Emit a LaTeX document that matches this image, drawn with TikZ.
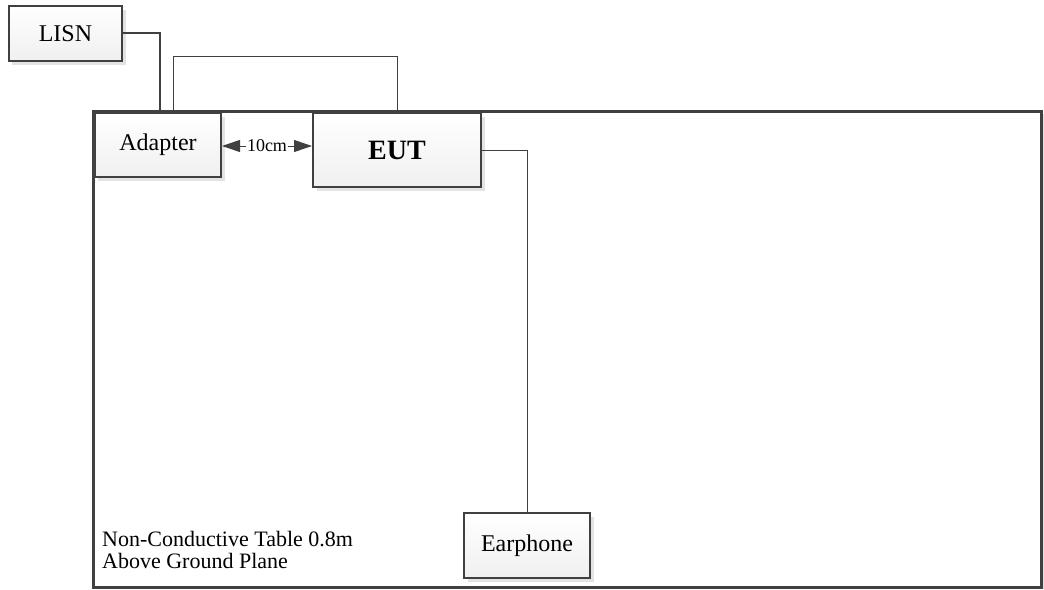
\documentclass[tikz,border=0pt]{standalone}
\usepackage{fontspec}
\setmainfont{Liberation Serif}
\usetikzlibrary{arrows.meta}
\definecolor{edge}{HTML}{404040}
\tikzset{
  px/.style={x=1pt,y=-1pt},
  devbox/.style={draw=edge, line width=2pt, top color=white, bottom color=gray!12,
    font=\fontsize{24}{28}\selectfont, inner sep=0pt},
  shadowbox/.style={fill=gray!22, draw=none},
  thickwire/.style={draw=edge, line width=2pt},
  thinwire/.style={draw=edge, line width=1pt},
  disttip/.style={draw=edge, line width=1pt, -{Triangle[length=18pt,width=12pt]}},
  tablelabel/.style={font=\fontsize{22}{23}\selectfont, inner sep=0pt, anchor=base west},
}
\begin{document}
\begin{tikzpicture}[px]
\useasboundingbox (0,0) rectangle (1044,589);
% shadows
\fill[shadowbox] (12,10) rectangle (126,65);
\fill[shadowbox] (98,117) rectangle (225,181);
\fill[shadowbox] (317,117) rectangle (485,191);
\fill[shadowbox] (468,517) rectangle (594,582);
\fill[gray!25] (1043,114) rectangle (1045,589);
% table
\draw[draw=edge, line width=3pt] (93,111) rectangle (1041.5,587);
% boxes
\node[devbox, minimum width=113pt, minimum height=55pt] (lisn) at (65.5,33.5) {LISN};
\node[devbox, minimum width=126pt, minimum height=64pt] (adapter) at (158,145) {Adapter};
\node[devbox, minimum width=168pt, minimum height=74pt, font=\fontsize{28}{32}\selectfont\bfseries] (eut) at (397,150) {EUT};
\node[devbox, minimum width=126pt, minimum height=65pt] (ear) at (527,545.5) {Earphone};
% wires
\coordinate (tabA) at (160,111);
\draw[thickwire] (lisn.east |- 0,33) -| (tabA);
\coordinate (tabB) at (173,111);
\draw[thinwire] (tabB) |- (397,56) -- (eut.north);
\draw[thinwire] (eut.east) -| (ear.north);
% distance arrow
\node[font=\fontsize{18}{20}\selectfont, inner sep=1pt] (dist) at (267,146) {10cm};
\draw[disttip] (dist.west) -- (adapter.east |- dist);
\draw[disttip] (dist.east) -- (eut.west |- dist);
% table label
\node[tablelabel] (lbl1) at (102,546) {Non-Conductive Table 0.8m};
\node[tablelabel] (lbl2) at (102,568) {Above Ground Plane};
\end{tikzpicture}
\end{document}
